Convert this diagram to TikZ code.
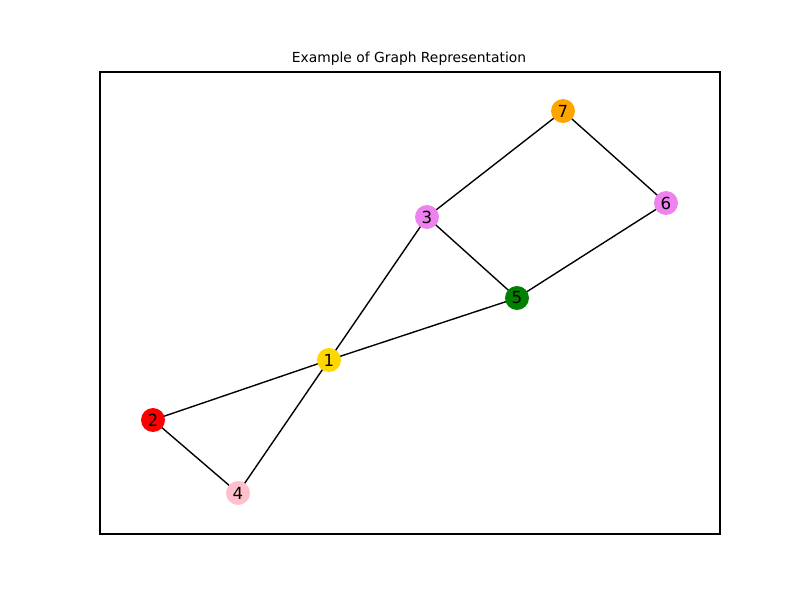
\documentclass[tikz,border=0pt]{standalone}
\usepackage{fontspec}
\setmainfont{DejaVu Sans}
\definecolor{cviolet}{HTML}{EE82EE}
\definecolor{cgreen}{HTML}{008000}
\definecolor{cgold}{HTML}{FFD700}
\definecolor{corange}{HTML}{FFA500}
\definecolor{cpink}{HTML}{FFC0CB}
\definecolor{cred}{HTML}{FF0000}
\begin{document}
\begin{tikzpicture}[x=0.01in,y=-0.01in,
  vtx/.style={circle,minimum size=17.3pt,inner sep=0pt,font=\fontsize{12}{14}\selectfont},
  edge/.style={line width=1pt,black}]
\useasboundingbox (0,0) rectangle (800,600);
\draw[line width=0.8pt] (100,72) rectangle (720,534);
\node[font=\fontsize{10}{12}\selectfont] (title) at (409,59) {Example of Graph Representation};
\coordinate (p7) at (563,111);
\coordinate (p6) at (666,203);
\coordinate (p3) at (427,217);
\coordinate (p5) at (517,298);
\coordinate (p1) at (329,360);
\coordinate (p2) at (153,420);
\coordinate (p4) at (238,493);
\draw[edge] (p7) -- (p3);
\draw[edge] (p7) -- (p6);
\draw[edge] (p3) -- (p5);
\draw[edge] (p3) -- (p1);
\draw[edge] (p6) -- (p5);
\draw[edge] (p5) -- (p1);
\draw[edge] (p1) -- (p2);
\draw[edge] (p1) -- (p4);
\draw[edge] (p2) -- (p4);
\node[vtx,fill=corange] (n7) at (p7) {7};
\node[vtx,fill=cviolet] (n6) at (p6) {6};
\node[vtx,fill=cviolet] (n3) at (p3) {3};
\node[vtx,fill=cgreen] (n5) at (p5) {5};
\node[vtx,fill=cgold] (n1) at (p1) {1};
\node[vtx,fill=cred] (n2) at (p2) {2};
\node[vtx,fill=cpink] (n4) at (p4) {4};
\end{tikzpicture}
\end{document}
